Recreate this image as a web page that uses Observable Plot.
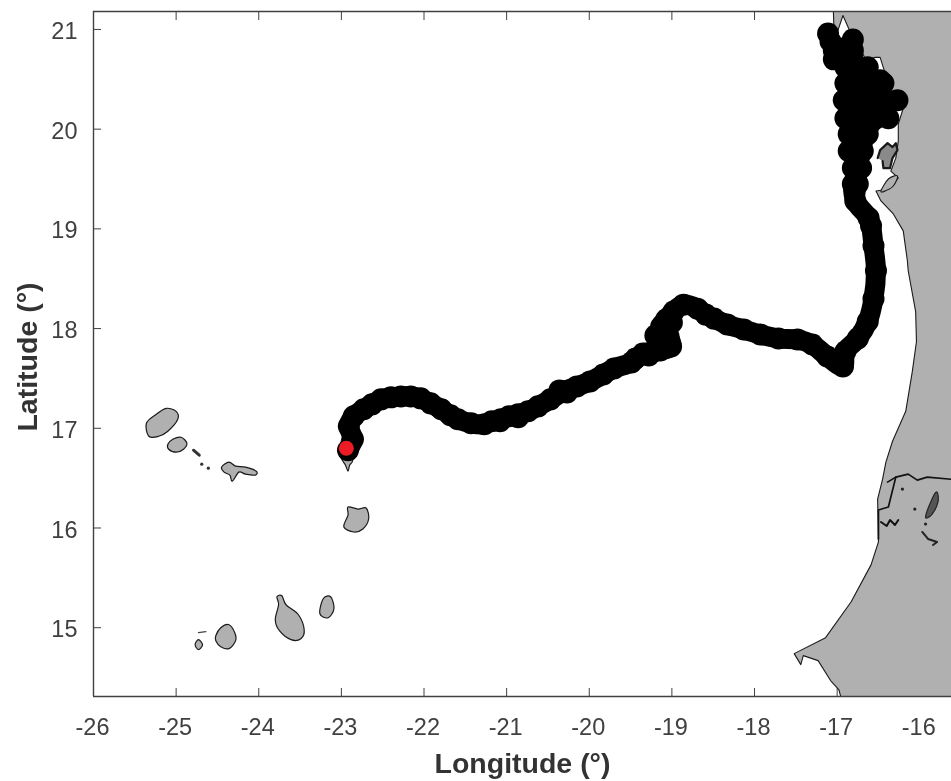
<!DOCTYPE html>
<html>
<head>
<meta charset="utf-8">
<script src="https://cdn.jsdelivr.net/npm/d3@7"></script>
<script src="https://cdn.jsdelivr.net/npm/@observablehq/plot@0.6"></script>
<style>
html,body{margin:0;padding:0;background:#fff;overflow:hidden}
svg{display:block;filter:blur(0.35px)}
</style>
</head>
<body>
<div id="chart"></div>
<script>
const lonTicks = [-26,-25,-24,-23,-22,-21,-20,-19,-18,-17,-16];
const latTicks = [15,16,17,18,19,20,21];
const xLabel = "Longitude (°)";
const yLabel = "Latitude (°)";

const mainland = [[-17.05,21.3],[-17.04,21.04],[-16.99,20.99],[-16.93,21.14],[-16.86,21.01],[-16.71,20.79],[-16.65,20.69],[-16.54,20.72],[-16.48,20.72],[-16.40,20.51],[-16.51,20.54],[-16.60,20.44],[-16.17,20.29],[-16.26,20.05],[-16.26,19.88],[-16.29,19.71],[-16.35,19.58],[-16.26,19.51],[-16.37,19.40],[-16.53,19.38],[-16.47,19.28],[-16.32,19.15],[-16.20,18.98],[-16.15,18.68],[-16.14,18.58],[-16.05,18.17],[-16.04,17.87],[-16.09,17.57],[-16.17,17.17],[-16.33,16.87],[-16.41,16.66],[-16.45,16.49],[-16.51,16.29],[-16.50,15.86],[-16.59,15.63],[-16.83,15.26],[-17.14,14.90],[-17.52,14.74],[-17.44,14.63],[-17.41,14.72],[-17.23,14.67],[-17.08,14.47],[-16.98,14.38],[-16.92,14.2],[-15.5,14.2],[-15.5,21.3],[-17.05,21.3]];
const arguinIslands = [[-16.51,19.71],[-16.48,19.79],[-16.39,19.86],[-16.33,19.82],[-16.29,19.86],[-16.27,19.79],[-16.33,19.71],[-16.36,19.61],[-16.44,19.61],[-16.45,19.68]];
const tidraLens = [[-16.47,19.38],[-16.38,19.50],[-16.27,19.53],[-16.32,19.43],[-16.42,19.38]];
const riverMain = [[-16.39,16.46],[-16.29,16.51],[-16.14,16.54],[-16.03,16.48],[-15.91,16.51],[-15.5,16.48]];
const riverBranch = [[-16.29,16.51],[-16.38,16.21],[-16.50,16.18],[-16.50,15.89]];
const riverSpur = [[-16.47,16.06],[-16.40,16.02],[-16.36,16.08],[-16.30,16.03],[-16.26,16.08]];
const lakeGuiers = [[-15.93,16.11],[-15.84,16.31],[-15.79,16.36],[-15.78,16.26],[-15.85,16.14]];
const lakeLine = [[-15.97,15.96],[-15.90,15.89],[-15.79,15.86],[-15.84,15.83]];
const smallLakes = [[-16.21,16.39],[-16.06,16.19],[-15.93,16.04]];

const santoAntao = [[-25.36,17.05],[-25.24,17.14],[-25.12,17.20],[-25.00,17.17],[-24.98,17.09],[-25.10,16.97],[-25.21,16.92],[-25.33,16.92]];
const saoVicente = [[-25.10,16.84],[-25.04,16.89],[-24.94,16.91],[-24.87,16.85],[-24.91,16.79],[-25.00,16.76],[-25.09,16.79]];
const saoNicolau = [[-24.45,16.61],[-24.36,16.66],[-24.28,16.62],[-24.16,16.61],[-24.03,16.57],[-24.04,16.53],[-24.16,16.54],[-24.24,16.56],[-24.32,16.47],[-24.35,16.53],[-24.42,16.56]];
const sal = [[-22.98,16.93],[-23.01,16.73],[-22.95,16.63],[-22.92,16.57],[-22.90,16.63],[-22.86,16.69],[-22.86,16.93]];
const boaVista = [[-22.92,16.21],[-22.80,16.19],[-22.70,16.20],[-22.67,16.09],[-22.74,15.99],[-22.85,15.96],[-22.97,16.01],[-22.92,16.13]];
const maio = [[-23.22,15.29],[-23.13,15.31],[-23.09,15.19],[-23.16,15.10],[-23.26,15.14]];
const santiago = [[-23.78,15.31],[-23.72,15.32],[-23.67,15.23],[-23.52,15.13],[-23.45,14.98],[-23.49,14.89],[-23.61,14.88],[-23.75,14.97],[-23.80,15.08],[-23.76,15.23]];
const fogo = [[-24.52,14.92],[-24.46,15.00],[-24.36,15.03],[-24.29,14.95],[-24.28,14.87],[-24.36,14.79],[-24.46,14.81],[-24.52,14.87]];
const brava = [[-24.77,14.83],[-24.73,14.88],[-24.68,14.83],[-24.73,14.78]];
const santaLuzia = [[-24.79,16.78],[-24.72,16.73]];
const rombo = [[-24.73,14.95],[-24.64,14.96]];
const islets = [[-24.69,16.64],[-24.61,16.60]];

const track = [[-22.92,16.78],[-22.86,16.89],[-22.91,17.02],[-22.85,17.12],[-22.73,17.19],[-22.63,17.24],[-22.52,17.29],[-22.40,17.31],[-22.28,17.32],[-22.16,17.32],[-22.04,17.30],[-21.92,17.25],[-21.79,17.19],[-21.68,17.13],[-21.59,17.09],[-21.43,17.05],[-21.27,17.04],[-21.18,17.07],[-21.07,17.09],[-20.97,17.12],[-20.86,17.14],[-20.74,17.17],[-20.62,17.22],[-20.47,17.29],[-20.31,17.37],[-20.15,17.42],[-19.99,17.47],[-19.83,17.54],[-19.70,17.60],[-19.49,17.66],[-19.35,17.75],[-19.22,17.77],[-19.01,17.82],[-19.04,17.92],[-19.13,18.02],[-19.07,18.09],[-18.98,18.17],[-18.86,18.24],[-18.69,18.20],[-18.59,18.14],[-18.49,18.10],[-18.33,18.04],[-18.13,17.99],[-17.93,17.94],[-17.71,17.90],[-17.48,17.89],[-17.30,17.84],[-17.12,17.72],[-16.93,17.62],[-16.90,17.77],[-16.75,17.90],[-16.63,18.07],[-16.56,18.30],[-16.53,18.58],[-16.56,18.83],[-16.59,19.03],[-16.62,19.11],[-16.78,19.28],[-16.81,19.45]];
const trackLoops = [[-19.20,17.93],[-19.14,17.78],[-19.28,17.73],[-19.44,17.70],[-19.04,17.83],[-19.00,18.06],[-19.14,17.88],[-20.36,17.38],[-20.27,17.36],[-21.08,17.07],[-20.86,17.11]];
const trackCluster = [[-16.75,19.45],[-16.81,19.61],[-16.71,19.61],[-16.86,19.78],[-16.69,19.78],[-16.86,19.95],[-16.75,19.95],[-16.63,19.95],[-16.90,20.11],[-16.71,20.11],[-16.63,20.11],[-16.53,20.11],[-16.38,20.11],[-16.92,20.29],[-16.71,20.29],[-16.50,20.29],[-16.40,20.29],[-16.27,20.29],[-16.90,20.46],[-16.69,20.46],[-16.55,20.46],[-16.44,20.46],[-16.48,20.49],[-16.54,20.39],[-16.90,20.62],[-16.76,20.62],[-16.63,20.62],[-16.81,20.79],[-17.04,20.79],[-17.04,20.70],[-17.08,20.88],[-16.81,20.90],[-17.11,20.96]];
const clusterCore = [[-17.14,20.94],[-16.96,20.89],[-16.81,20.96],[-16.74,20.79],[-16.62,20.54],[-16.48,20.44],[-16.27,20.29],[-16.42,20.11],[-16.57,19.94],[-16.65,19.63],[-16.69,19.28],[-16.62,19.03],[-16.80,19.33],[-16.86,19.63],[-16.91,19.96],[-16.95,20.29],[-16.94,20.59],[-17.08,20.74]];
const release = [[-22.94,16.80]];

const islands = {santoAntao, saoVicente, saoNicolau, sal, boaVista, maio, santiago, fogo, brava};
const islandRows = Object.entries(islands).flatMap(([name, pts]) => pts.map(p => ({name, lon:p[0], lat:p[1]})));
const lon = d => d[0], lat = d => d[1];
const ink = "#404040", coast = "#1a1a1a", land = "#b0b0b0";

const chart = Plot.plot({
  width: 951, height: 781,
  marginLeft: 93, marginRight: 0, marginTop: 11, marginBottom: 85,
  x: {domain: [-26, -15.616]},
  y: {domain: [14.31, 21.18]},
  style: {background: "#fff", fontFamily: "'Liberation Sans', Arial, sans-serif"},
  marks: [
    Plot.axisX(lonTicks, {anchor:"bottom", tickSize:-8, tickFormat:()=>"", stroke:ink, label:null}),
    Plot.axisX(lonTicks, {anchor:"bottom", tickSize:0, tickPadding:22, tickFormat:d=>String(d), fontSize:23.5, color:ink, label:null, dx:-1}),
    Plot.axisX(lonTicks, {anchor:"top", tickSize:-8, tickFormat:()=>"", stroke:ink, label:null}),
    Plot.axisY(latTicks, {anchor:"left", tickSize:-8, tickFormat:()=>"", stroke:ink, label:null}),
    Plot.axisY(latTicks, {anchor:"left", tickSize:0, tickPadding:16, tickFormat:d=>String(d), fontSize:23.5, color:ink, label:null, dy:2}),
    Plot.line(mainland, {x:lon, y:lat, fill:land, stroke:coast, strokeWidth:1.1, clip:true}),
    Plot.line(arguinIslands, {x:lon, y:lat, fill:"#8a8a8a", stroke:coast, strokeWidth:2.2, clip:true}),
    Plot.line(tidraLens, {x:lon, y:lat, curve:"cardinal-closed", fill:land, stroke:coast, strokeWidth:1.1, clip:true}),
    Plot.line(riverMain, {x:lon, y:lat, stroke:"#111", strokeWidth:1.7, clip:true}),
    Plot.line(riverBranch, {x:lon, y:lat, stroke:"#111", strokeWidth:1.7, clip:true}),
    Plot.line(riverSpur, {x:lon, y:lat, stroke:"#111", strokeWidth:2, clip:true}),
    Plot.line(lakeGuiers, {x:lon, y:lat, curve:"cardinal-closed", fill:"#555", stroke:"#222", strokeWidth:1.2, clip:true}),
    Plot.line(lakeLine, {x:lon, y:lat, stroke:"#222", strokeWidth:2, clip:true}),
    Plot.dot(smallLakes, {x:lon, y:lat, r:1.6, fill:"#222"}),
    Plot.line(islandRows, {x:"lon", y:"lat", z:"name", curve:"cardinal-closed", fill:land, stroke:coast, strokeWidth:1.2}),
    Plot.line(santaLuzia, {x:lon, y:lat, stroke:"#333", strokeWidth:3}),
    Plot.line(rombo, {x:lon, y:lat, stroke:"#444", strokeWidth:1.2}),
    Plot.dot(islets, {x:lon, y:lat, r:1.6, fill:"#333"}),
    Plot.line(clusterCore, {x:lon, y:lat, fill:"#000", stroke:"#000", strokeWidth:4}),
    Plot.line(track, {x:lon, y:lat, stroke:"#000", strokeWidth:20, curve:"catmull-rom"}),
    Plot.dot(track, {x:lon, y:lat, r:11, fill:"#000"}),
    Plot.dot(trackLoops, {x:lon, y:lat, r:11, fill:"#000"}),
    Plot.dot(trackCluster, {x:lon, y:lat, r:11, fill:"#000"}),
    Plot.dot(release, {x:lon, y:lat, r:7.5, fill:"#ed1c24"}),
    Plot.ruleX([-26], {stroke:ink, strokeWidth:1.4}),
    Plot.ruleY([14.31, 21.18], {stroke:ink, strokeWidth:1.4}),
    Plot.text([xLabel], {frameAnchor:"bottom", dy:76, text:d=>d, fontSize:28.5, fontWeight:"bold", fill:"#333"}),
    Plot.text([yLabel], {frameAnchor:"left", dx:-66, dy:3, rotate:-90, textAnchor:"middle", text:d=>d, fontSize:28.5, fontWeight:"bold", fill:"#333"})
  ]
});
document.getElementById("chart").append(chart);
</script>
</body>
</html>
